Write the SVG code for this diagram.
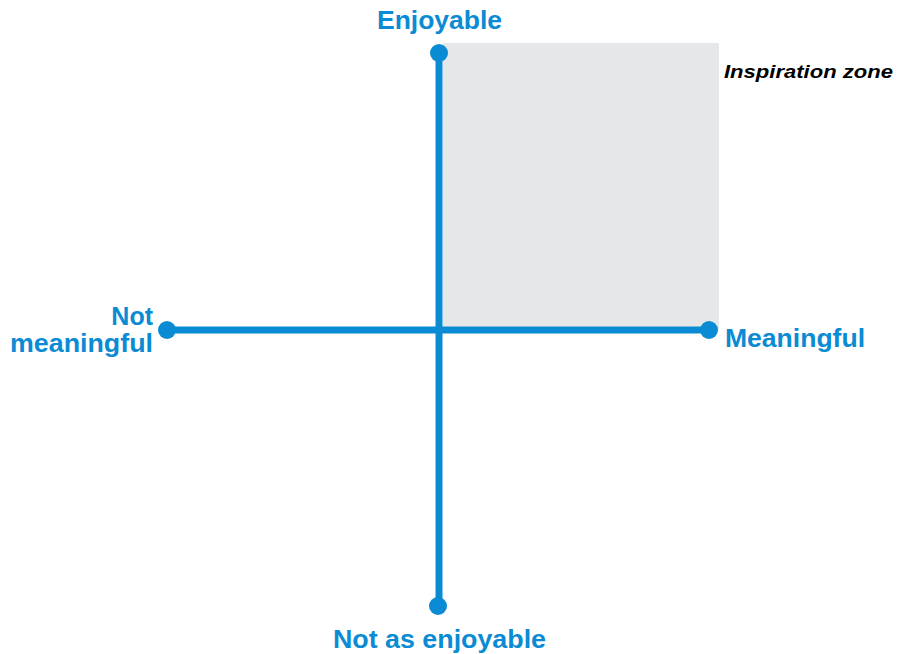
<svg xmlns="http://www.w3.org/2000/svg" width="911" height="654" viewBox="0 0 911 654">
<style>
.lbl{font-family:"Liberation Sans",Arial,sans-serif;font-weight:bold;font-size:25px;fill:#0A8BD3}
.zone{font-family:"Liberation Sans",Arial,sans-serif;font-weight:bold;font-style:italic;font-size:19px;fill:#000}
.axis{stroke:#0A8BD3;stroke-width:7;fill:none}
.dot{fill:#0A8BD3}
</style>
<rect width="911" height="654" fill="#fff"/>
<g id="zone">
<rect x="443" y="43" width="276" height="286" fill="#E6E7E8"/>
<text class="zone" x="724" y="78" textLength="169" lengthAdjust="spacingAndGlyphs">Inspiration zone</text>
</g>
<g id="connectors">
<line class="axis" x1="439" y1="53" x2="439" y2="606"/>
<line class="axis" x1="167" y1="330" x2="709" y2="330"/>
</g>
<g id="top">
<circle class="dot" cx="439" cy="53" r="9"/>
<text class="lbl" x="377" y="29" textLength="125" lengthAdjust="spacingAndGlyphs">Enjoyable</text>
</g>
<g id="bottom">
<circle class="dot" cx="438" cy="606" r="9"/>
<text class="lbl" x="333" y="648" textLength="213" lengthAdjust="spacingAndGlyphs">Not as enjoyable</text>
</g>
<g id="left">
<circle class="dot" cx="167" cy="330" r="9"/>
<text class="lbl" x="153" y="325" text-anchor="end">Not</text>
<text class="lbl" x="10" y="352" textLength="143" lengthAdjust="spacingAndGlyphs">meaningful</text>
</g>
<g id="right">
<circle class="dot" cx="709" cy="330" r="9"/>
<text class="lbl" x="725" y="347" textLength="140" lengthAdjust="spacingAndGlyphs">Meaningful</text>
</g>
</svg>
